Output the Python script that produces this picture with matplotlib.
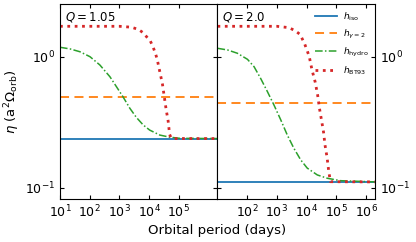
"""
Disc aspect ratio eta vs orbital period for two mass ratios
"""

import matplotlib
matplotlib.use("Agg")
import matplotlib.pyplot as plt
import matplotlib.ticker as mticker

# x range shared by both panels (days)
period_range = [10, 2e6]

# Q = 1.05 panel
q_left = "1.05"
iso_left = 0.237
gamma_left = 0.495
hydro_p_left = [10, 21.9, 46.8, 102, 219, 479, 794, 1349, 2239, 3715, 6310, 10470, 22900, 49000, 1.07e5, 2e6]
hydro_left = [1.180, 1.146, 1.091, 1.0, 0.865, 0.703, 0.590, 0.490, 0.404, 0.344, 0.301, 0.275, 0.252,
              0.243, 0.238, 0.237]
bt93_p_left = [10, 1000, 2512, 4266, 6310, 9120, 10960, 13490, 16220, 18620, 22910, 28180, 32360, 37150,
               43650, 48980, 54950, 63100, 2e6]
bt93_left = [1.706, 1.706, 1.679, 1.618, 1.524, 1.380, 1.318, 1.191, 1.062, 0.959, 0.767, 0.615, 0.495,
             0.399, 0.323, 0.255, 0.240, 0.237, 0.237]

# Q = 2.0 panel
q_right = "2.0"
iso_right = 0.1106
gamma_right = 0.446
hydro_p_right = [10, 21.9, 46.8, 102, 170, 282, 479, 794, 1349, 2239, 3715, 6310, 10470, 22900, 49000,
                 1.38e5, 2e6]
hydro_right = [1.159, 1.125, 1.062, 0.955, 0.839, 0.684, 0.541, 0.428, 0.329, 0.252, 0.200, 0.163, 0.141,
               0.125, 0.118, 0.113, 0.1106]
bt93_p_right = [10, 1000, 2512, 4074, 6026, 8511, 10470, 12300, 15140, 19500, 23440, 26920, 31620, 37150,
                41690, 48980, 54950, 63100, 2e6]
bt93_right = [1.706, 1.706, 1.667, 1.581, 1.479, 1.259, 1.109, 1.0, 0.794, 0.638, 0.511, 0.406, 0.329,
              0.265, 0.211, 0.169, 0.136, 0.111, 0.1106]

xticks_left = [1e1, 1e2, 1e3, 1e4, 1e5]
xticks_right = [1e2, 1e3, 1e4, 1e5, 1e6]

plt.rcParams['font.size'] = 8

fig, (ax_l, ax_r) = plt.subplots(1, 2, figsize=(4.16, 2.42), dpi=100, sharey=True)
fig.subplots_adjust(left=0.1442, right=0.9014, top=0.983, bottom=0.178, wspace=0)


def draw_panel(ax, q, iso, gamma, hydro_p, hydro, bt93_p, bt93, xticks):
    ax.plot(period_range, [iso, iso], color='tab:blue', lw=1.3, label=r'$h_{\rm iso}$')
    ax.plot(period_range, [gamma, gamma], color='tab:orange', lw=1.3, ls=(0, (5, 3)),
            label=r'$h_{\gamma=2}$')
    ax.plot(hydro_p, hydro, color='tab:green', lw=1.1, ls=(0, (5, 1.5, 1, 1.5)), label=r'$h_{\rm hydro}$')
    ax.plot(bt93_p, bt93, color='tab:red', lw=2, ls=(0, (1, 1.65)), label=r'$h_{\rm BT93}$')

    ax.set_xscale('log')
    ax.set_yscale('log')
    ax.set_xlim(period_range)
    ax.set_ylim(0.082, 2.52)
    ax.set_xticks(xticks)
    ax.xaxis.set_minor_locator(mticker.NullLocator())
    ax.yaxis.set_minor_locator(mticker.NullLocator())
    ax.tick_params(direction='in', top=True, right=True, length=3, labelsize=9)

    # Mass ratio label in the corner
    ax.text(0.03, 0.97, rf'$Q = {q}$', transform=ax.transAxes, ha='left', va='top',
            fontsize=8.5)


draw_panel(ax_l, q_left, iso_left, gamma_left, hydro_p_left, hydro_left,
           bt93_p_left, bt93_left, xticks_left)
draw_panel(ax_r, q_right, iso_right, gamma_right, hydro_p_right, hydro_right,
           bt93_p_right, bt93_right, xticks_right)

ax_l.set_yticks([0.1, 1.0])
ax_r.tick_params(labelleft=False, labelright=True)

ax_l.set_ylabel(r'$\eta$ (a$^2\Omega_{\rm orb}$)', fontsize=9.5, labelpad=2)
fig.text(0.5225, 0.02, 'Orbital period (days)', ha='center', va='bottom', fontsize=9.5)

ax_r.legend(loc='upper right', frameon=False, fontsize=6.5, handlelength=2.4,
            handletextpad=0.7, labelspacing=0.55, borderaxespad=0.3)

fig.savefig('out.png', dpi=100)
